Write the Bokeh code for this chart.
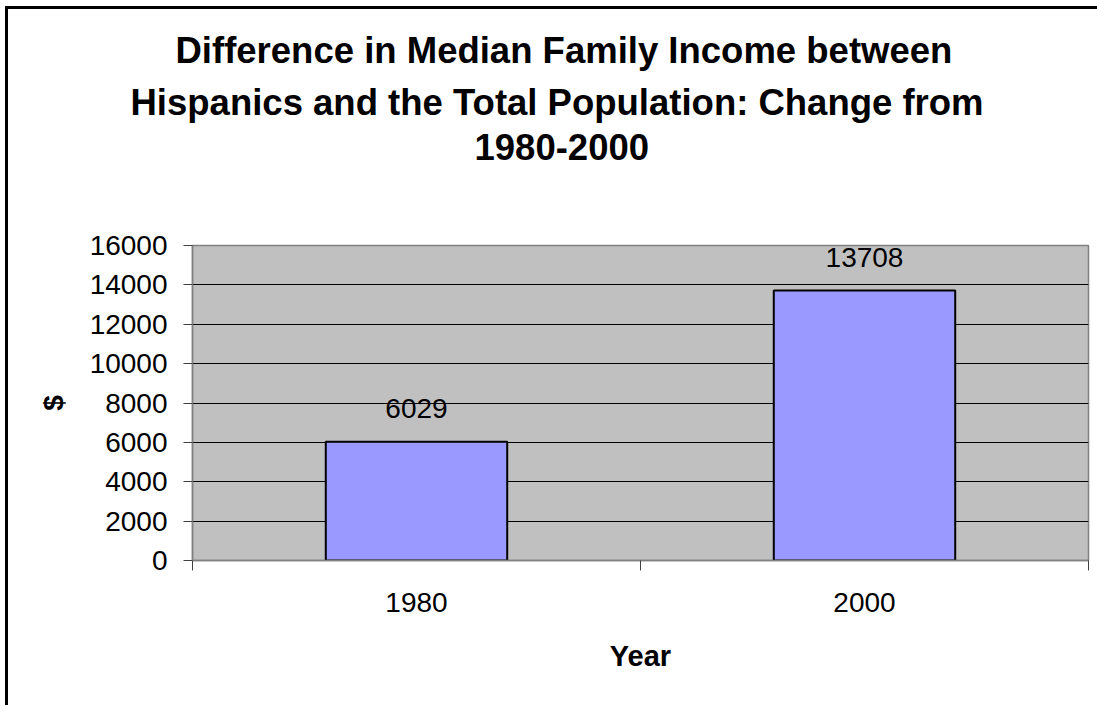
from bokeh.plotting import figure
from bokeh.models import (ColumnDataSource, FixedTicker, LabelSet, Range1d,
                          Title, InlineStyleSheet)
from bokeh.core.properties import value
from bokeh.embed import file_html
from bokeh.resources import INLINE

# Chart data
years = ["1980", "2000"]
income_gap = [6029, 13708]
y_ticks = [0, 2000, 4000, 6000, 8000, 10000, 12000, 14000, 16000]
title_lines = [
    "Difference in Median Family Income between",
    "Hispanics and the Total Population: Change from",
    "1980-2000",
]
# horizontal shift of each title line from the left edge of the plot area
title_offsets = [-17, -62, 282]

FONT = "Liberation Sans"
W, H = 1097, 705
FRAME_L, FRAME_R, FRAME_T, FRAME_B = 192, 1088, 245, 560

# one slot per category, bars centred in each slot
slot_centers = [i + 0.5 for i in range(len(years))]
slot_edges = [float(i) for i in range(len(years) + 1)]

source = ColumnDataSource(dict(
    x=slot_centers,
    top=income_gap,
    label=[str(v) for v in income_gap],
))

p = figure(
    width=W, height=H,
    x_range=Range1d(0, len(years)), y_range=Range1d(0, y_ticks[-1]),
    output_backend="svg", toolbar_location=None,
    min_border_left=FRAME_L, min_border_right=W - FRAME_R,
    min_border_top=FRAME_T, min_border_bottom=H - FRAME_B,
)
p.background_fill_color = "#C0C0C0"
p.border_fill_color = "white"
p.outline_line_color = "#808080"
p.outline_line_width = 1.5

p.vbar(x="x", top="top", width=0.405, source=source,
       fill_color="#9999FF", line_color="black", line_width=2)

p.add_layout(LabelSet(
    x="x", y="top", text="label", source=source,
    y_offset=24, text_align="center", text_baseline="alphabetic",
    text_font=value(FONT), text_font_size=value("28px"), text_color="black",
))

# grid
p.xgrid.visible = False
p.ygrid.ticker = FixedTicker(ticks=y_ticks)
p.ygrid.grid_line_color = "black"
p.ygrid.grid_line_width = 1

# y axis
ya = p.yaxis[0]
ya.ticker = FixedTicker(ticks=y_ticks)
ya.axis_line_color = "#808080"
ya.axis_line_width = 1.5
ya.major_tick_line_color = "#404040"
ya.major_tick_out = 9
ya.major_tick_in = 0
ya.minor_tick_line_color = None
ya.major_label_text_font = FONT
ya.major_label_text_font_size = "28px"
ya.major_label_text_color = "black"
ya.major_label_standoff = 16
ya.axis_label = "$"
ya.axis_label_text_font = FONT
ya.axis_label_text_font_style = "bold"
ya.axis_label_text_font_size = "28px"
ya.axis_label_text_color = "black"
ya.axis_label_standoff = 18

# x axis: labels at slot centres, tick marks at slot edges
xa = p.xaxis[0]
xa.ticker = FixedTicker(ticks=slot_centers, minor_ticks=slot_edges)
xa.major_label_overrides = {c: y for c, y in zip(slot_centers, years)}
xa.axis_line_color = "#808080"
xa.axis_line_width = 1.5
xa.major_tick_out = 0
xa.major_tick_in = 0
xa.minor_tick_out = 10
xa.minor_tick_in = 0
xa.minor_tick_line_color = "#404040"
xa.major_label_text_font = FONT
xa.major_label_text_font_size = "28px"
xa.major_label_text_color = "black"
xa.major_label_standoff = 22
xa.axis_label = "Year"
xa.axis_label_text_font = FONT
xa.axis_label_text_font_style = "bold"
xa.axis_label_text_font_size = "29px"
xa.axis_label_text_color = "black"
xa.axis_label_standoff = 25

# title block: a gap above the plot area, then the lines from last to first
p.add_layout(Title(text=" ", text_font_size="10px", standoff=67.5), "above")
for line, off in reversed(list(zip(title_lines, title_offsets))):
    p.add_layout(Title(
        text=line, align="left", offset=off, standoff=8.5,
        text_font=FONT, text_font_style="bold", text_font_size="36.5px",
        text_color="black",
    ), "above")

# frame around the chart area (its left and top edges fall in view)
p.stylesheets = [InlineStyleSheet(css="""
:host { position: relative; }
:host::after {
  content: "";
  position: absolute;
  left: 5px; top: 6px; right: 0; bottom: 0;
  border-left: 3px solid black;
  border-top: 3px solid black;
  pointer-events: none;
}
""")]

open("out.html", "w").write(file_html(p, INLINE))
